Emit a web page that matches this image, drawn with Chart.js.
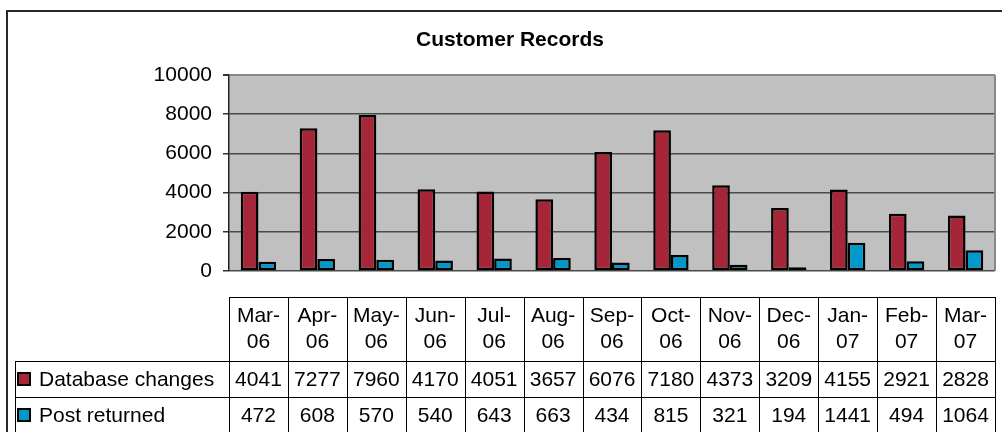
<!DOCTYPE html>
<html>
<head>
<meta charset="utf-8">
<script src="https://cdn.jsdelivr.net/npm/chart.js@4/dist/chart.umd.min.js"></script>
<style>
html, body { margin: 0; padding: 0; background: #fff; overflow: hidden; }
canvas { display: block; }
</style>
</head>
<body>
<canvas id="chart" width="1002" height="432"></canvas>
<script>
const months = ['Mar-06', 'Apr-06', 'May-06', 'Jun-06', 'Jul-06', 'Aug-06', 'Sep-06', 'Oct-06', 'Nov-06', 'Dec-06', 'Jan-07', 'Feb-07', 'Mar-07'];
const dbChanges = [4041, 7277, 7960, 4170, 4051, 3657, 6076, 7180, 4373, 3209, 4155, 2921, 2828];
const postReturned = [472, 608, 570, 540, 643, 663, 434, 815, 321, 194, 1441, 494, 1064];
const seriesNames = ['Database changes', 'Post returned'];
const yMax = 10000;
const yStep = 2000;

const RED = '#A52539';
const BLUE = '#0099CC';
const FONT = '"Liberation Sans", Arial, sans-serif';

// plot background, frame, title and the data table under the chart
const excelLook = {
    id: 'excelLook',
    beforeDraw(chart) {
        const { ctx, chartArea: a } = chart;
        ctx.save();
        ctx.fillStyle = '#C0C0C0';
        ctx.fillRect(a.left, a.top, a.right - a.left, a.bottom - a.top);
        ctx.restore();
    },
    afterDraw(chart) {
        const { ctx, chartArea: a } = chart;
        const x = chart.scales.x;
        ctx.save();

        // right edge of plot
        ctx.strokeStyle = '#888';
        ctx.lineWidth = 2;
        ctx.beginPath();
        ctx.moveTo(a.right, a.top);
        ctx.lineTo(a.right, a.bottom);
        ctx.stroke();

        // outer chart frame (cut off at right/bottom)
        ctx.strokeStyle = '#2a2a2a';
        ctx.lineWidth = 2;
        ctx.beginPath();
        ctx.moveTo(7, 432);
        ctx.lineTo(7, 11);
        ctx.lineTo(1002, 11);
        ctx.stroke();

        // title
        ctx.fillStyle = '#000';
        ctx.font = 'bold 21px ' + FONT;
        ctx.textAlign = 'center';
        ctx.textBaseline = 'middle';
        ctx.fillText('Customer Records', 510, 40);

        // data table
        const top = 297, r1 = 361, r2 = 397, bottom = 432, legendLeft = 15;
        const half = (x.getPixelForValue(1) - x.getPixelForValue(0)) / 2;
        ctx.strokeStyle = '#000';
        ctx.lineWidth = 1;
        ctx.beginPath();
        ctx.moveTo(a.left, top + 0.5); ctx.lineTo(a.right, top + 0.5);
        ctx.moveTo(legendLeft, r1 + 0.5); ctx.lineTo(a.right, r1 + 0.5);
        ctx.moveTo(legendLeft, r2 + 0.5); ctx.lineTo(a.right, r2 + 0.5);
        ctx.moveTo(legendLeft + 0.5, r1); ctx.lineTo(legendLeft + 0.5, bottom);
        for (let i = 0; i <= months.length; i++) {
            const bx = Math.round(x.getPixelForValue(i) - half) + 0.5;
            ctx.moveTo(bx, top); ctx.lineTo(bx, bottom);
        }
        ctx.stroke();

        ctx.font = '21px ' + FONT;
        ctx.fillStyle = '#000';
        ctx.textAlign = 'center';
        months.forEach((m, i) => {
            const cx = x.getPixelForValue(i);
            const [mon, yr] = m.split('-');
            ctx.fillText(mon + '-', cx, 316);
            ctx.fillText(yr, cx, 342);
            ctx.fillText(String(dbChanges[i]), cx, 380);
            ctx.fillText(String(postReturned[i]), cx, 416);
        });

        // legend keys in the table
        [[RED, 373], [BLUE, 409]].forEach(([c, y], k) => {
            ctx.fillStyle = c;
            ctx.fillRect(18, y, 12, 12);
            ctx.strokeStyle = '#000';
            ctx.lineWidth = 2;
            ctx.strokeRect(18, y, 12, 12);
            ctx.fillStyle = '#000';
            ctx.textAlign = 'left';
            ctx.fillText(seriesNames[k], 39, y + 7);
        });
        ctx.restore();
    }
};

new Chart(document.getElementById('chart'), {
    type: 'bar',
    data: {
        labels: months,
        datasets: [
            { label: seriesNames[0], data: dbChanges, backgroundColor: RED, borderColor: '#000', borderWidth: 2.5, borderSkipped: false },
            { label: seriesNames[1], data: postReturned, backgroundColor: BLUE, borderColor: '#000', borderWidth: 2.5, borderSkipped: false },
        ],
    },
    options: {
        responsive: false,
        animation: false,
        events: [],
        layout: { padding: { left: 0, right: 7, top: 75, bottom: 161 } },
        datasets: { bar: { categoryPercentage: 0.6, barPercentage: 1 } },
        plugins: { legend: { display: false }, title: { display: false }, tooltip: { enabled: false } },
        scales: {
            x: { display: false },
            y: {
                min: 0,
                max: yMax,
                afterFit: (s) => { s.width = 229; },
                ticks: { stepSize: yStep, color: '#000', padding: 11, font: { size: 21, family: FONT }, callback: (v) => String(v) },
                grid: {
                    color: (c) => (c.tick && c.tick.value === yMax ? '#888' : '#4a4a4a'),
                    lineWidth: (c) => (c.tick && c.tick.value === yMax ? 2 : 1.5),
                    tickColor: '#333',
                    tickLength: 6,
                },
                border: { color: '#222', width: 1.5 },
            },
        },
    },
    plugins: [excelLook],
});
</script>
</body>
</html>
